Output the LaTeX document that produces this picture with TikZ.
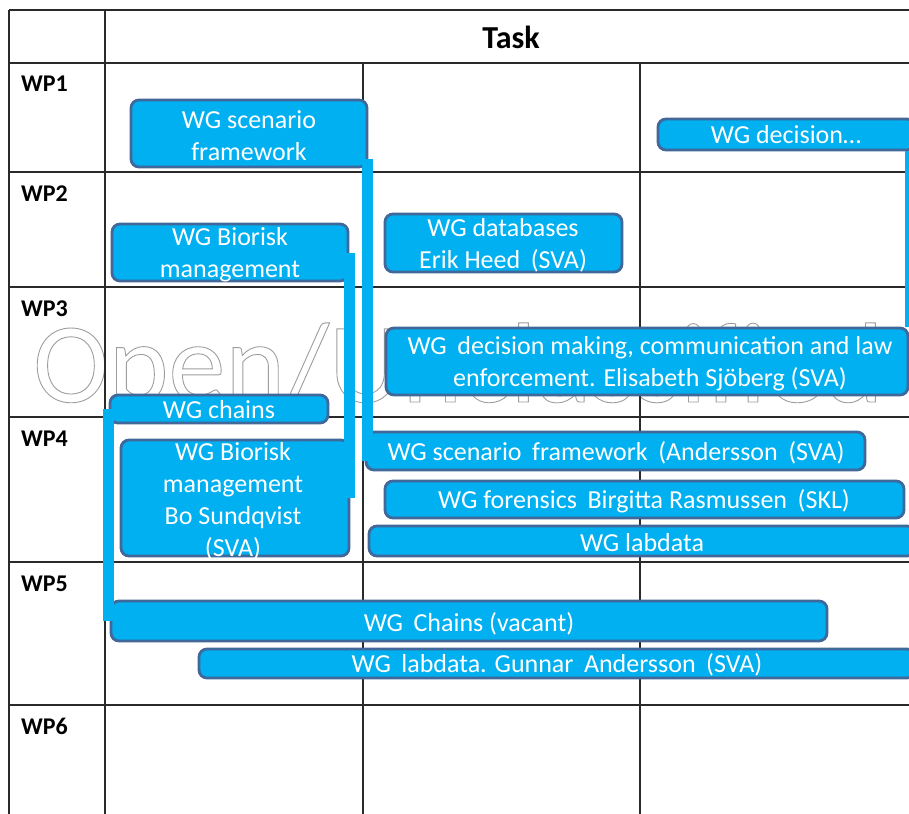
\documentclass[tikz,border=0pt]{standalone}
\usepackage{fontspec}
\setmainfont{Carlito}
\definecolor{wgfill}{HTML}{00B0F0}
\definecolor{wgline}{HTML}{41689A}
\definecolor{gridc}{HTML}{2A2A2A}
\newcommand\gapx{\hspace{0.18em}}
% stroked (hollow) glyphs through the PDF text rendering mode
\newcommand\hollow[1]{\special{pdf:code q 1 Tr 0.9 w 0.62 G}#1\special{pdf:code Q}}
\tikzset{
  wgbox/.style={draw=wgline, line width=2.8pt, fill=wgfill, rounded corners=8pt, inner sep=0pt},
  wgtext/.style={text=white, font=\fontsize{26}{32}\selectfont, align=center, inner sep=0pt},
  wplabel/.style={font=\fontsize{24}{28}\selectfont\bfseries, anchor=base west, inner sep=0pt},
  wmstyle/.style={anchor=base west, inner sep=0pt, font=\fontsize{114}{114}\selectfont},
  gridline/.style={draw=gridc, line width=1.4pt},
  bar/.style={draw=wgfill, line width=11pt},
}
\begin{document}
\begin{tikzpicture}[x=1pt, y=-1pt]
\useasboundingbox (0,0) rectangle (909,813);
\fill[white] (0,0) rectangle (909,813);

% classification mark
\node[wmstyle] (wm) at (33,402) {\hollow{Open/Unclassified}};

% table grid
\foreach \yy in {10,63,172,287,417,562,705}
  \draw[gridline] (9,\yy) -- (912,\yy);
\foreach \xx in {9,105}
  \draw[gridline] (\xx,10) -- (\xx,815);
\foreach \xx in {363,640}
  \draw[gridline] (\xx,63) -- (\xx,815);

% header and row labels
\node[font=\fontsize{32}{32}\selectfont\bfseries] (task) at (511,37) {Task};
\node[wplabel] (wp1) at (21,92) {WP1};
\node[wplabel] (wp2) at (21,201) {WP2};
\node[wplabel] (wp3) at (21,316) {WP3};
\node[wplabel] (wp4) at (21,446) {WP4};
\node[wplabel] (wp5) at (21,591) {WP5};
\node[wplabel] (wp6) at (21,734) {WP6};

% working group boxes
\node[wgbox, minimum width=236pt, minimum height=67pt]  (b1)  at (249,133.5) {};
\node[wgbox, minimum width=257pt, minimum height=31pt]  (b2)  at (786.5,134.5) {};
\node[wgbox, minimum width=236pt, minimum height=57pt]  (b3)  at (230,252.5) {};
\node[wgbox, minimum width=237pt, minimum height=58pt]  (b4)  at (503.5,243) {};
\node[wgbox, minimum width=522pt, minimum height=67pt]  (b5)  at (647,361.5) {};
\node[wgbox, minimum width=218pt, minimum height=28pt]  (b6)  at (219,409) {};
\node[wgbox, minimum width=228pt, minimum height=116pt] (b7)  at (235,498) {};
\node[wgbox, minimum width=499pt, minimum height=38pt]  (b8)  at (615.5,451) {};
\node[wgbox, minimum width=519pt, minimum height=37pt]  (b9)  at (644.5,499.5) {};
\node[wgbox, minimum width=546pt, minimum height=30pt]  (b10) at (642,541) {};
\node[wgbox, minimum width=716pt, minimum height=40pt]  (b11) at (469,621) {};
\node[wgbox, minimum width=716pt, minimum height=29pt]  (b12) at (557,663.5) {};

% box captions
\node[wgtext] (t1)  at (249,136) {WG scenario\\framework};
\node[wgtext] (t2)  at (786,135) {WG decision…};
\node[wgtext] (t3)  at (230,255) {WG Biorisk\\management};
\node[wgtext] (t4)  at (503,245) {WG databases\\Erik Heed\gapx{} (SVA)};
\node[wgtext] (t5)  at (650,364) {WG\gapx{} decision making, communication and law\\enforcement. Elisabeth Sjöberg (SVA)};
\node[wgtext] (t6)  at (219,410) {WG chains};
\node[wgtext] (t7)  at (233,501) {WG Biorisk\\management\\Bo Sundqvist\\(SVA)};
\node[wgtext] (t8)  at (616,453) {WG scenario\gapx{} framework\gapx{} (Andersson\gapx{} (SVA)};
\node[wgtext] (t9)  at (644,501) {WG forensics\gapx{} Birgitta Rasmussen\gapx{} (SKL)};
\node[wgtext] (t10) at (642,543) {WG labdata};
\node[wgtext] (t11) at (469,624) {WG\gapx{} Chains (vacant)};
\node[wgtext] (t12) at (557,665) {WG\gapx{} labdata. Gunnar\gapx{} Andersson\gapx{} (SVA)};

% links between the same group across work packages
\coordinate (aTop) at ([xshift=-1pt,yshift=9pt]b1.south east);
\coordinate (aEnd) at ([yshift=10pt]b8.south west);
\draw[bar] (aTop) -- (aTop |- aEnd);
\draw[bar] (b3.east) -- (b3.east |- b7.east);
\draw[bar] (b6.west) -- (b6.west |- b11.west);
\coordinate (dTop) at ([xshift=-6pt]b2.south east);
\draw[bar] (dTop) -- (dTop |- b5.north east);
\coordinate (eTop) at ([xshift=-2pt]b10.south east);
\draw[bar] (eTop) -- (eTop |- b12.north east);
\end{tikzpicture}
\end{document}
